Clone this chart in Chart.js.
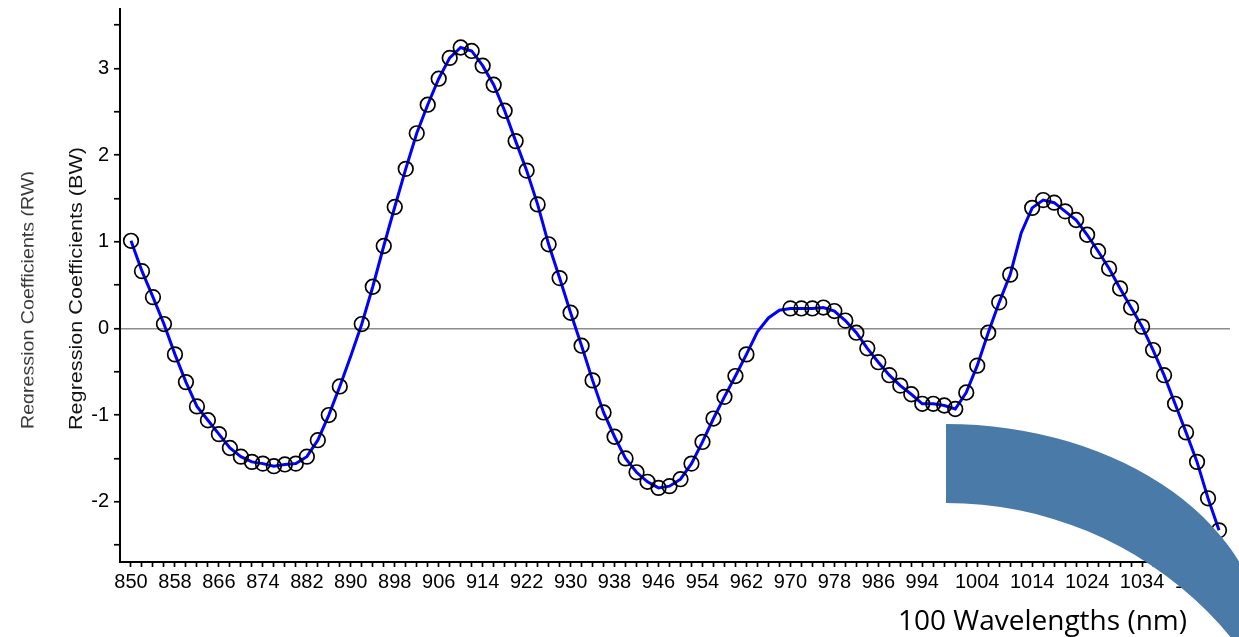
<!DOCTYPE html>
<html><head><meta charset="utf-8">
<script src="https://cdn.jsdelivr.net/npm/chart.js@4.4.1/dist/chart.umd.min.js"></script>
<style>html,body{margin:0;padding:0;background:#fff;overflow:hidden}canvas{display:block}</style>
</head><body>
<canvas id="c" width="1239" height="637"></canvas>
<script>
const wavelengths = [850,852,854,856,858,860,862,864,866,868,870,872,874,876,878,880,882,884,886,888,
  890,892,894,896,898,900,902,904,906,908,910,912,914,916,918,920,922,924,926,928,
  930,932,934,936,938,940,942,944,946,948,950,952,954,956,958,960,962,964,966,968,
  970,972,974,976,978,980,982,984,986,988,990,992,994,996,998,1000,1002,1004,1006,1008,
  1010,1012,1014,1016,1018,1020,1022,1024,1026,1028,1030,1032,1034,1036,1038,1040,1042,1044,1046,1048];

const bwValues = [1.01,0.66,0.36,0.05,-0.30,-0.62,-0.90,-1.06,-1.22,-1.38,
  -1.48,-1.54,-1.56,-1.59,-1.57,-1.56,-1.48,-1.29,-1.00,-0.67,
  -0.32,0.05,0.48,0.95,1.40,1.84,2.25,2.58,2.88,3.12,
  3.24,3.20,3.03,2.81,2.51,2.16,1.82,1.43,0.97,0.58,
  0.18,-0.20,-0.60,-0.97,-1.25,-1.50,-1.66,-1.77,-1.84,-1.82,
  -1.74,-1.56,-1.31,-1.04,-0.79,-0.55,-0.30,-0.04,0.12,0.21,
  0.23,0.23,0.23,0.24,0.20,0.09,-0.05,-0.23,-0.39,-0.54,
  -0.66,-0.76,-0.87,-0.87,-0.89,-0.93,-0.74,-0.43,-0.05,0.30,
  0.62,1.10,1.39,1.48,1.45,1.35,1.25,1.08,0.89,0.69,
  0.46,0.24,0.02,-0.25,-0.54,-0.87,-1.20,-1.54,-1.96,-2.33];

const rwValues = [1.01,0.66,0.36,0.05,-0.30,-0.62,-0.90,-1.06,-1.22,-1.38,
  -1.48,-1.54,-1.56,-1.59,-1.57,-1.56,-1.48,-1.29,-1.00,-0.67,
  null,0.05,0.48,0.95,1.40,1.84,2.25,2.58,2.88,3.12,
  3.24,3.20,3.03,2.81,2.51,2.16,1.82,1.43,0.97,0.58,
  0.18,-0.20,-0.60,-0.97,-1.25,-1.50,-1.66,-1.77,-1.84,-1.82,
  -1.74,-1.56,-1.31,-1.04,-0.79,-0.55,-0.30,null,null,null,
  0.23,0.23,0.23,0.24,0.20,0.09,-0.05,-0.23,-0.39,-0.54,
  -0.66,-0.76,-0.87,-0.87,-0.89,-0.93,-0.74,-0.43,-0.05,0.30,
  0.62,null,1.39,1.48,1.45,1.35,1.25,1.08,0.89,0.69,
  0.46,0.24,0.02,-0.25,-0.54,-0.87,-1.20,-1.54,-1.96,-2.33];

const xTickLabels = [850,858,866,874,882,890,898,906,914,922,930,938,946,954,962,970,978,986,994,1004,1014,1024,1034,1044];
const yTickValues = [-2.5,-2,-1.5,-1,-0.5,0,0.5,1,1.5,2,2.5,3,3.5];
const yTickLabels = [-2,-1,0,1,2,3];

const yTitleBW = 'Regression Coefficients (BW)';
const yTitleRW = 'Regression Coefficients (RW)';
const xTitle = '100 Wavelengths (nm)';

function drawFitted(ctx, text, font, color, x, y, targetW, rot) {
  ctx.save();
  ctx.translate(x, y);
  ctx.rotate(rot);
  ctx.font = font;
  const w = ctx.measureText(text).width;
  ctx.scale(targetW / w, 1);
  ctx.fillStyle = color;
  ctx.textAlign = 'center';
  ctx.textBaseline = 'alphabetic';
  ctx.fillText(text, 0, 0);
  ctx.restore();
}

const overlay = {
  id: 'overlay',
  afterDraw(chart) {
    const ctx = chart.ctx;
    // clipped secondary title
    ctx.save();
    ctx.beginPath();
    ctx.rect(0, 0, 33.5, 637);
    ctx.clip();
    drawFitted(ctx, yTitleRW, '18px "Liberation Sans", Arial, sans-serif', '#3a3a3a', 33.5, 300, 258, -Math.PI / 2);
    ctx.restore();
    // primary title
    drawFitted(ctx, yTitleBW, '18.5px "Liberation Sans", Arial, sans-serif', '#111', 81.7, 288.5, 283, -Math.PI / 2);
    // block arc: elliptical outer edge, circular inner edge
    ctx.save();
    ctx.beginPath();
    ctx.moveTo(946, 424);
    ctx.ellipse(946, 654, 320, 230, 0, -Math.PI / 2, 0);
    ctx.lineTo(1266, 700);
    ctx.lineTo(1400, 760);
    ctx.lineTo(1315, 872);
    ctx.arc(946, 872, 369, 0, -Math.PI / 2, true);
    ctx.closePath();
    ctx.fillStyle = '#4a7ba8';
    ctx.fill();
    ctx.restore();
    // x title
    ctx.save();
    ctx.font = '27px "Open Sans", sans-serif';
    const w = ctx.measureText(xTitle).width;
    ctx.translate(898, 630);
    ctx.scale(289 / w, 1);
    ctx.fillStyle = '#000';
    ctx.textAlign = 'left';
    ctx.textBaseline = 'alphabetic';
    ctx.fillText(xTitle, 0, 0);
    ctx.restore();
  }
};

function build() {
  const lineData = wavelengths.map((w, i) => ({ x: w, y: bwValues[i] }));
  const circleData = wavelengths.map((w, i) => ({ x: w, y: rwValues[i] }));
  const tickFont = { family: '"Liberation Sans", Arial, sans-serif', size: 20 };
  new Chart(document.getElementById('c'), {
    type: 'line',
    data: {
      datasets: [
        { label: 'RW', data: circleData, showLine: false, pointRadius: 7.3, pointHoverRadius: 7.3,
          pointBorderColor: '#000', pointBackgroundColor: 'rgba(0,0,0,0)', pointBorderWidth: 1.7 },
        { label: 'BW', data: lineData, borderColor: '#0000ff', borderWidth: 3, pointRadius: 0,
          tension: 0, fill: false }
      ]
    },
    options: {
      responsive: false, animation: false, devicePixelRatio: 1, events: [],
      layout: { padding: { top: 7, left: 0, right: 0, bottom: 0 } },
      plugins: { legend: { display: false }, tooltip: { enabled: false } },
      scales: {
        x: {
          type: 'linear', min: 848, max: 1050,
          afterBuildTicks: s => { s.ticks = wavelengths.map(v => ({ value: v })); },
          afterFit: s => { s.height = 75; s.paddingLeft = 0; s.paddingRight = 0; },
          border: { color: '#000', width: 2 },
          grid: { drawOnChartArea: false, drawTicks: true, tickLength: 5, tickColor: '#000', tickWidth: 1.7 },
          ticks: { autoSkip: false, maxRotation: 0, minRotation: 0, padding: 3, color: '#000', font: tickFont,
            callback: v => xTickLabels.includes(v) ? String(v) : '' }
        },
        y: {
          type: 'linear', min: -2.695, max: 3.684,
          afterBuildTicks: s => { s.ticks = yTickValues.map(v => ({ value: v })); },
          afterFit: s => { s.width = 120; s.paddingTop = 0; s.paddingBottom = 0; },
          border: { color: '#000', width: 2 },
          grid: { color: c => (c.tick && c.tick.value === 0) ? '#8c8c8c' : 'rgba(0,0,0,0)', lineWidth: 1.5,
            drawTicks: true, tickLength: 6, tickColor: '#000', tickWidth: 1.7 },
          ticks: { padding: 5, color: '#000', font: tickFont,
            callback: v => yTickLabels.includes(v) ? String(v) : '' }
        }
      }
    },
    plugins: [overlay]
  });
}

Promise.all([
  document.fonts.load('20px "Liberation Sans"'),
  document.fonts.load('27px "Open Sans"')
]).then(build, build);
</script>
</body></html>
